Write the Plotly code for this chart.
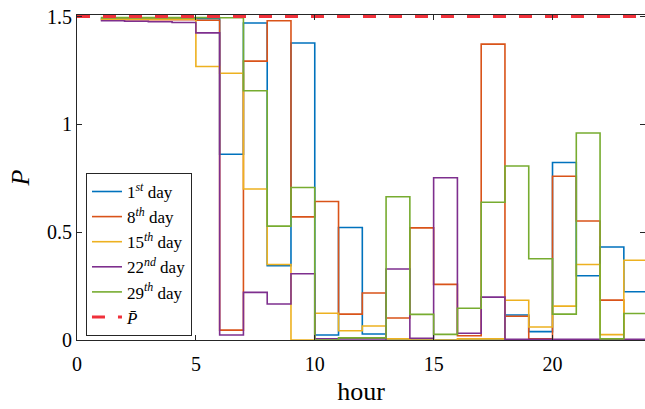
import plotly.graph_objects as go

hours = list(range(1, 25))
day1 = [1.49, 1.49, 1.49, 1.49, 1.49, 0.861, 1.470, 0.344, 1.377, 0.023, 0.522, 0.028,
        0.0, 0.0, 0.0, 0.0, 0.0, 0.116, 0.039, 0.823, 0.298, 0.431, 0.224]
day8 = [1.485, 1.485, 1.485, 1.485, 1.483, 0.046, 1.293, 1.480, 0.571, 0.642, 0.120, 0.218,
        0.102, 0.520, 0.258, 0.020, 1.372, 0.110, 0.005, 0.759, 0.552, 0.185, 0.0]
day15 = [1.488, 1.488, 1.488, 1.488, 1.268, 1.237, 0.700, 0.350, 0.0, 0.124, 0.043, 0.065,
         0.005, 0.0, 0.0, 0.005, 0.005, 0.184, 0.060, 0.157, 0.350, 0.025, 0.370]
day22 = [1.480, 1.478, 1.476, 1.472, 1.424, 0.023, 0.221, 0.167, 0.307, 0.005, 0.005, 0.005,
         0.329, 0.008, 0.752, 0.031, 0.199, 0.003, 0.003, 0.003, 0.003, 0.003, 0.003]
day29 = [1.495, 1.495, 1.495, 1.495, 1.495, 1.494, 1.156, 0.528, 0.707, 0.0, 0.010, 0.010,
         0.664, 0.119, 0.026, 0.147, 0.639, 0.807, 0.377, 0.120, 0.960, 0.005, 0.123]
p_bar = 1.5
p_bar_x = [0, 24]

names = ["1<sup><i>st</i></sup> day", "8<sup><i>th</i></sup> day", "15<sup><i>th</i></sup> day",
         "22<sup><i>nd</i></sup> day", "29<sup><i>th</i></sup> day"]
colors = ["#0072BD", "#D95319", "#EDB120", "#7E2F8E", "#77AC30"]
series = [day1, day8, day15, day22, day29]

FONT = "Liberation Serif, Times New Roman, DejaVu Serif, serif"
AX = "#262626"

fig = go.Figure()
for name, col, vals in zip(names, colors, series):
    fig.add_trace(go.Scatter(x=hours, y=vals + [vals[-1]], mode="lines", name=name,
                             line=dict(color=col, width=1.6, shape="hv")))
fig.add_trace(go.Scatter(x=p_bar_x, y=[p_bar, p_bar], mode="lines", name="<i>P̄</i>",
                         line=dict(color="#f0303a", width=3.2, dash="13px,13px")))

fig.update_layout(
    width=645, height=409,
    margin=dict(l=77, r=0, t=15, b=69),
    paper_bgcolor="white", plot_bgcolor="white",
    font=dict(family=FONT, size=20, color=AX),
    showlegend=True,
    legend=dict(x=0.0158, y=0.514, xanchor="left", yanchor="top",
                bgcolor="white", bordercolor=AX, borderwidth=1,
                font=dict(family=FONT, size=17, color="black"),
                itemwidth=30, tracegroupgap=0),
    xaxis=dict(range=[0, 23.89], tickvals=[0, 5, 10, 15, 20], ticks="inside", ticklen=5,
               tickcolor=AX, showline=True, linecolor=AX, linewidth=1, mirror="ticks",
               showgrid=False, zeroline=False, ticklabelstandoff=6,
               tickfont=dict(family=FONT, size=20, color="black"),
               title=dict(text="hour", font=dict(family=FONT, size=26, color="black"), standoff=7)),
    yaxis=dict(range=[0, 1.507], tickvals=[0, 0.5, 1, 1.5], ticktext=["0", "0.5", "1", "1.5"],
               ticks="inside", ticklen=5, tickcolor=AX, showline=True, linecolor=AX, linewidth=1,
               mirror="ticks", showgrid=False, zeroline=False,
               tickfont=dict(family=FONT, size=20, color="black"),
               title=dict(text="<i>P</i>", font=dict(family=FONT, size=26, color="black"), standoff=9)),
)

fig.write_html("out.html")
